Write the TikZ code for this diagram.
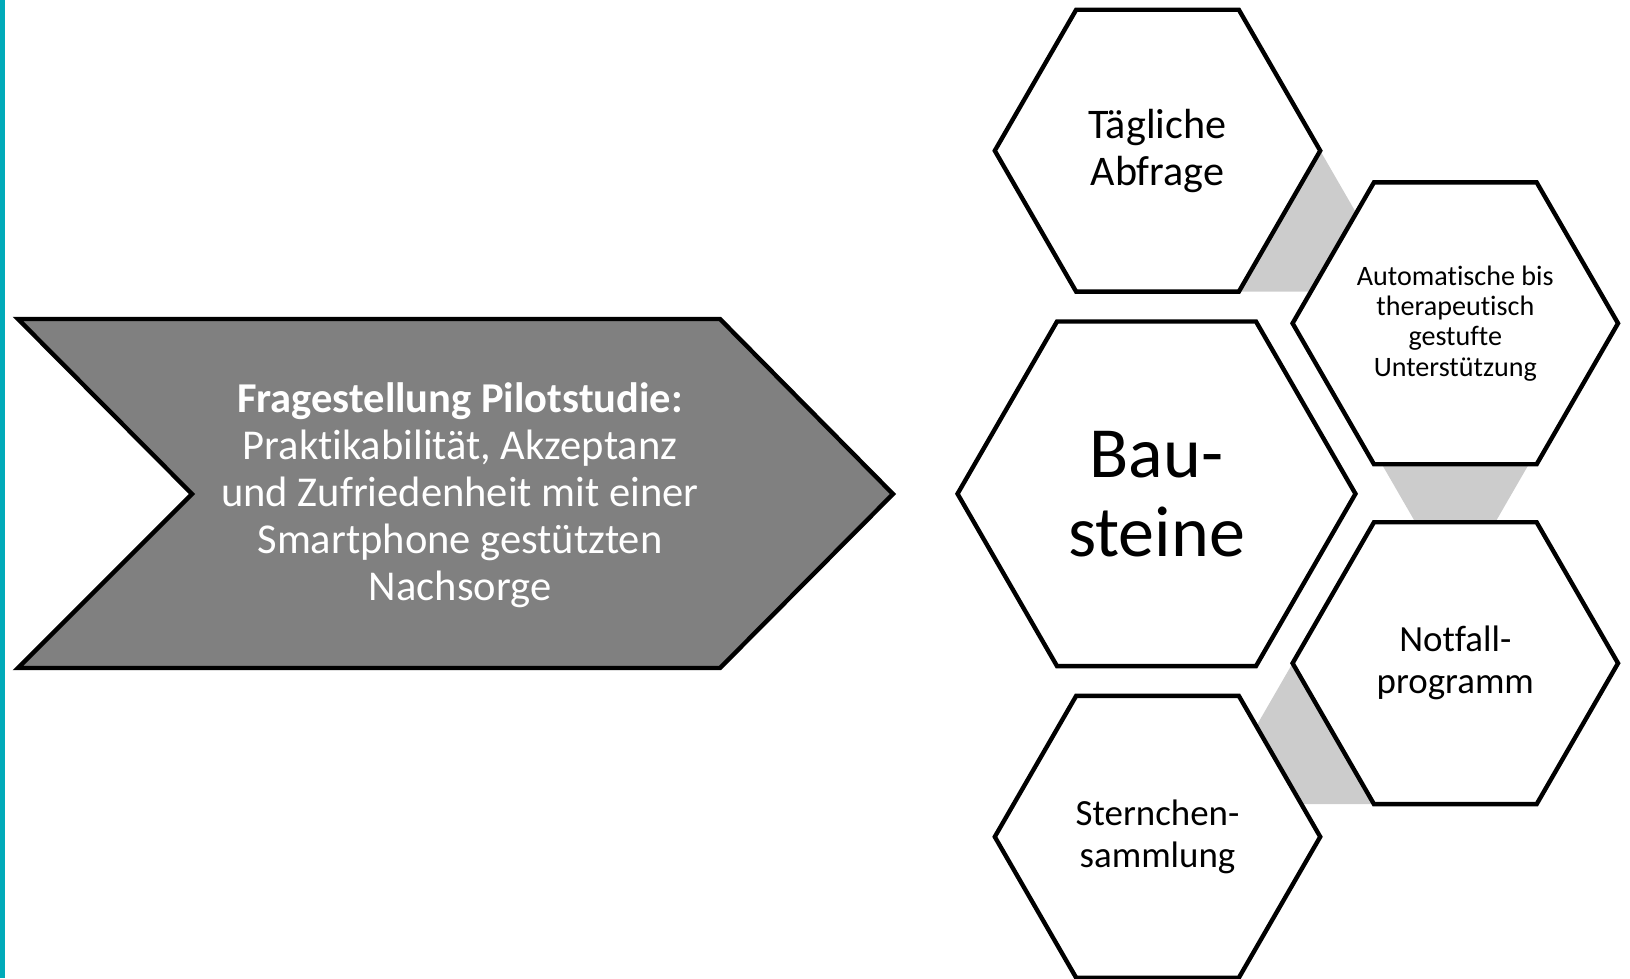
\documentclass[tikz,border=0pt]{standalone}
\usepackage{fontspec}
\setmainfont{Carlito}[Ligatures=NoCommon]
\usetikzlibrary{shapes,backgrounds}
\definecolor{balken}{RGB}{0,170,185}
\definecolor{pfeilgrau}{RGB}{128,128,128}
\definecolor{steggrau}{RGB}{204,204,204}

\begin{document}
\begin{tikzpicture}[x=0.02cm,y=-0.02cm]
	\tikzstyle{wabe} = [draw,line width=2.5pt,fill=white,shape=regular polygon,regular polygon sides=6,inner sep=0pt,outer sep=0pt,minimum size=6.51cm,align=center,font=\fontsize{21}{24}\selectfont]
	\tikzstyle{steg} = [fill=steggrau,draw=none]
	\useasboundingbox (0,0) rectangle (1630,978);
	\fill[balken] (0,0) rectangle (5,978);

	% Pfeil links
	\draw[fill=pfeilgrau,line width=2.5pt] (18,319) -- (720,319) -- (893,494) -- (720,668) -- (18,668) -- (192,494) -- cycle;
	\node[text=white,align=center,font=\fontsize{24.2}{26.7}\selectfont] (Frage) at (460,495) {\textbf{Fragestellung Pilotstudie:}\\Praktikabilität, Akzeptanz\\und Zufriedenheit mit einer\\Smartphone gestützten\\Nachsorge};

	% Waben
	\node[wabe,font=\fontsize{24}{26.5}\selectfont] (Abfrage) at (1157.5,150.7) {Tägliche\\Abfrage};
	\node[wabe,font=\fontsize{16}{17.3}\selectfont] (Hilfe) at (1455.3,323.3) {Automatische bis\\therapeutisch\\gestufte\\Unterstützung};
	\node[wabe,minimum size=7.96cm,font=\fontsize{41}{45}\selectfont] (Bausteine) at (1156.5,493.8) {Bau-\\steine};
	\node[wabe] (Notfall) at (1455.3,663.2) {Notfall-\\programm};
	\node[wabe] (Sterne) at (1157.5,836.8) {Sternchen-\\sammlung};

	\begin{pgfonlayer}{background}
	\fill[steg] (Abfrage.0) -- ++(50,86.6) -- (Hilfe.center |- Abfrage.-60) -- (Abfrage.-60) -- cycle;
	\node[steg,shape=regular polygon,regular polygon sides=6,minimum size=2.94cm] (Steg) at (Hilfe.south) {};
	\fill[steg] (Notfall.180) -- ++(-50,86.6) -- (Sterne.center |- Notfall.240) -- (Notfall.240) -- cycle;
	\end{pgfonlayer}
\end{tikzpicture}
\end{document}
